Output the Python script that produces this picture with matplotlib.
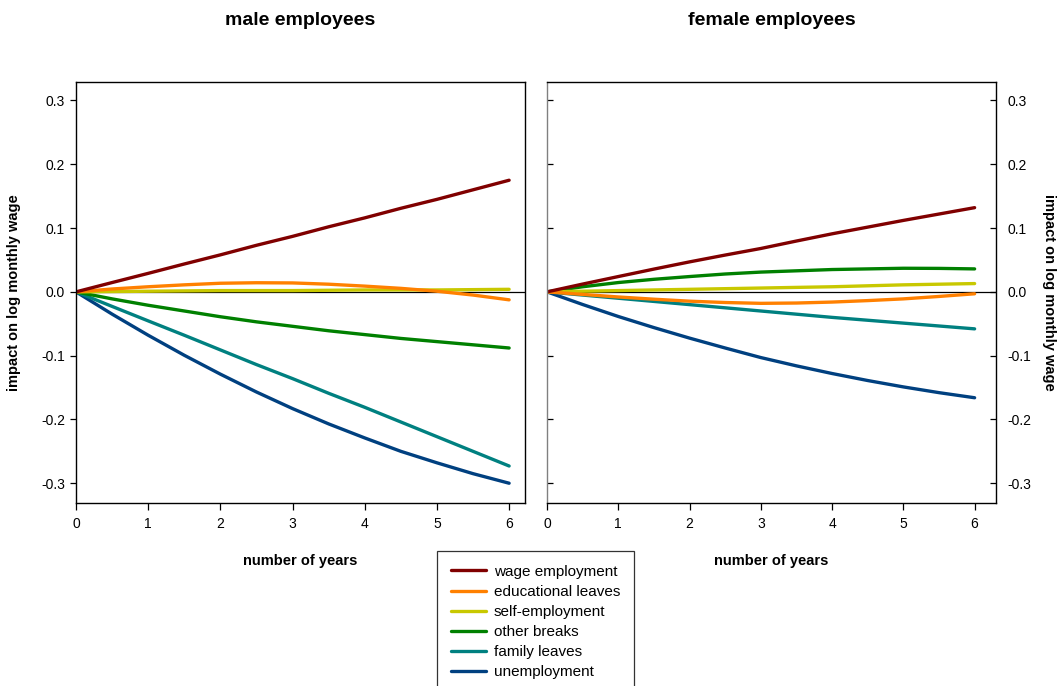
import matplotlib
matplotlib.use("Agg")
import matplotlib.pyplot as plt
import numpy as np

plt.rcParams['font.family'] = ['Liberation Sans', 'DejaVu Sans']

# years since the event, half-year steps
years = [0, 0.5, 1, 1.5, 2, 2.5, 3, 3.5, 4, 4.5, 5, 5.5, 6]

series_names = ["wage employment", "educational leaves", "self-employment",
                "other breaks", "family leaves", "unemployment"]
series_colors = ["#800000", "#ff8000", "#c8c800", "#008000", "#008080", "#004080"]

# impact on log monthly wage, male employees
male_wage = [0, 0.0146, 0.029, 0.0437, 0.058, 0.073, 0.087, 0.102, 0.116, 0.131, 0.145, 0.160, 0.175]
male_edu = [0, 0.0045, 0.008, 0.011, 0.0135, 0.0143, 0.014, 0.012, 0.009, 0.0055, 0.001, -0.005, -0.0125]
male_self = [0, 0.0005, 0.001, 0.0015, 0.002, 0.002, 0.002, 0.0025, 0.003, 0.003, 0.003, 0.0035, 0.004]
male_other = [0, -0.011, -0.021, -0.030, -0.039, -0.047, -0.054, -0.061, -0.067, -0.073, -0.078, -0.083, -0.088]
male_family = [0, -0.0228, -0.0455, -0.068, -0.091, -0.114, -0.136, -0.159, -0.181, -0.204, -0.227, -0.250, -0.273]
male_unemp = [0, -0.0349, -0.068, -0.0994, -0.129, -0.157, -0.183, -0.207, -0.229, -0.250, -0.268, -0.285, -0.300]

# impact on log monthly wage, female employees
female_wage = [0, 0.0122, 0.024, 0.0357, 0.047, 0.0577, 0.068, 0.0797, 0.091, 0.1015, 0.112, 0.122, 0.132]
female_edu = [0, -0.004, -0.008, -0.0115, -0.0146, -0.0167, -0.018, -0.0175, -0.016, -0.0137, -0.011, -0.0072, -0.003]
female_self = [0, 0.001, 0.002, 0.003, 0.004, 0.005, 0.006, 0.007, 0.008, 0.0095, 0.011, 0.012, 0.013]
female_other = [0, 0.008, 0.0146, 0.0197, 0.024, 0.028, 0.031, 0.033, 0.035, 0.036, 0.037, 0.0368, 0.036]
female_family = [0, -0.005, -0.010, -0.015, -0.020, -0.025, -0.030, -0.035, -0.040, -0.0445, -0.049, -0.0535, -0.058]
female_unemp = [0, -0.0198, -0.0386, -0.056, -0.0725, -0.088, -0.103, -0.116, -0.128, -0.139, -0.149, -0.158, -0.166]

male = [male_wage, male_edu, male_self, male_other, male_family, male_unemp]
female = [female_wage, female_edu, female_self, female_other, female_family, female_unemp]

yticks = [-0.3, -0.2, -0.1, 0.0, 0.1, 0.2, 0.3]

fig = plt.figure(figsize=(10.6, 6.86), dpi=100)
ax1 = fig.add_axes([76 / 1060, 1 - 503 / 686, 449 / 1060, 421 / 686])
ax2 = fig.add_axes([547 / 1060, 1 - 503 / 686, 449 / 1060, 421 / 686])

lines = []
for ax, data, xmax in [(ax1, male, 6.22), (ax2, female, 6.30)]:
    ax.axhline(0, color='black', lw=0.9, zorder=1)
    # draw bottom-most entry first so wage employment ends up on top
    for vals, col, name in reversed(list(zip(data, series_colors, series_names))):
        ln, = ax.plot(years, vals, color=col, lw=2.4, solid_capstyle='round',
                      solid_joinstyle='round', label=name, zorder=2)
        if ax is ax1:
            lines.insert(0, ln)
    ax.set_xlim(0, xmax)
    ax.set_ylim(-0.331, 0.329)
    ax.set_xticks(range(7))
    ax.set_yticks(yticks)
    ax.set_yticklabels([f"{v:.1f}" for v in yticks])
    ax.tick_params(labelsize=10, width=0.9, color='black')
    for sp in ax.spines.values():
        sp.set_linewidth(1.0)
    ax.set_xlabel("number of years", fontsize=10.5, fontweight='bold', labelpad=17)

# left panel: ticks outside on left and bottom
ax1.tick_params(axis='x', direction='out', length=5, pad=5)
ax1.tick_params(axis='y', direction='out', length=4, pad=4)
ax1.set_ylabel("impact on log monthly wage", fontsize=10.5, fontweight='bold', labelpad=14)
ax1.set_title("male employees", fontsize=14, fontweight='bold', pad=41)

# right panel: gray left spine, labels on the right
ax2.spines['left'].set_color('#808080')
ax2.tick_params(axis='x', direction='out', length=5, pad=5)
ax2.tick_params(axis='y', direction='in', length=4, pad=8, left=True, right=True,
                labelleft=False, labelright=True)
for t in ax2.yaxis.get_ticklines()[::2]:
    t.set_color('#808080')
ax2.yaxis.set_label_position('right')
ax2.set_ylabel("impact on log monthly wage", fontsize=10.5, fontweight='bold',
               rotation=270, labelpad=18)
ax2.set_title("female employees", fontsize=14, fontweight='bold', pad=41)

leg = fig.legend(handles=lines, labels=series_names, loc='upper left',
                 bbox_to_anchor=(437 / 1060, 1 - 551 / 686), fontsize=11,
                 frameon=True, fancybox=False, handlelength=2.3, handletextpad=0.5,
                 labelspacing=0.40, borderpad=0.9, borderaxespad=0)
leg.get_frame().set_edgecolor('black')
leg.get_frame().set_linewidth(0.9)

fig.savefig("out.png", dpi=100)
